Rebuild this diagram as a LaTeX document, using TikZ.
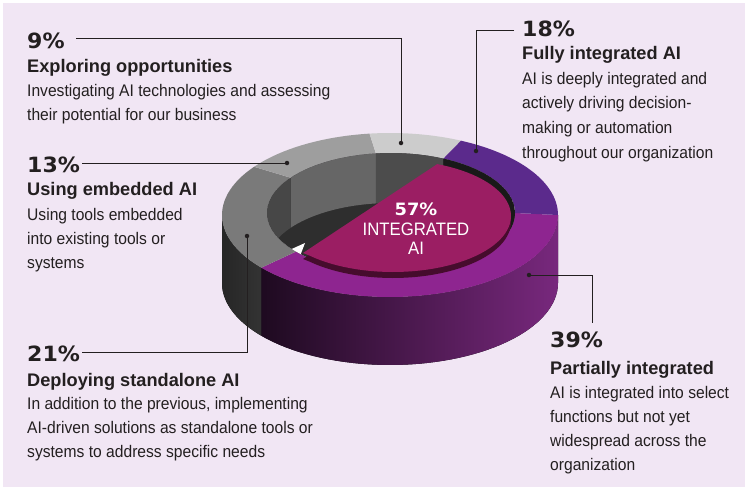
\documentclass[tikz,border=0pt]{standalone}
\usepackage{fontspec}
\setmainfont{Liberation Sans}[FakeStretch=0.93]
\newfontfamily\ttlfont{Liberation Sans}[FakeStretch=1.0]
\newfontfamily\pctfont{DejaVu Sans}[FakeStretch=1.05]
\begin{document}
\begin{tikzpicture}[x=1pt,y=-1pt,
  pct/.style={anchor=base west,inner sep=0,font=\pctfont\bfseries\fontsize{21}{21}\selectfont,text=txt},
  ttl/.style={anchor=base west,inner sep=0,font=\ttlfont\bfseries\fontsize{18.2}{18}\selectfont,text=txt},
  body/.style={anchor=base west,inner sep=0,font=\fontsize{16.8}{18}\selectfont,text=txt},
  lead/.style={draw=txt,line width=1pt},
  dotst/.style={circle,fill=txt,inner sep=0,minimum size=4.5pt}]
\definecolor{bg}{HTML}{F1E6F4}
\definecolor{txt}{HTML}{231F20}
\definecolor{magtop}{HTML}{8E2590}
\definecolor{purtop}{HTML}{5B2A8C}
\definecolor{pie}{HTML}{9B1E63}
\definecolor{pierim}{HTML}{460C2D}
\definecolor{wallL}{HTML}{1E0A20}
\definecolor{wallR}{HTML}{78287D}
\useasboundingbox (0,0) rectangle (750,490);
\fill[white] (0,0) rectangle (750,490);
\fill[bg] (3,3) rectangle (745,487);
% outer front walls
\fill[left color=black!85,right color=black!80] plot[domain=180:220,samples=20] ({390+168*cos(\x)},{215-82*sin(\x)}) -- plot[domain=220:180,samples=20] ({390+168*cos(\x)},{283-82*sin(\x)}) -- cycle;
\fill[left color=wallL,right color=wallR] plot[domain=220:360,samples=50] ({390+168*cos(\x)},{215-82*sin(\x)}) -- plot[domain=360:220,samples=50] ({390+168*cos(\x)},{283-82*sin(\x)}) -- cycle;
% top faces
\fill[magtop] plot[domain=220:360,samples=50] ({390+168*cos(\x)},{215-82*sin(\x)}) -- plot[domain=360:220,samples=50] ({391+124*cos(\x)},{213-60*sin(\x)}) -- cycle;
\fill[black!52] plot[domain=144:220,samples=30] ({390+168*cos(\x)},{215-82*sin(\x)}) -- plot[domain=220:144,samples=30] ({391+124*cos(\x)},{213-60*sin(\x)}) -- cycle;
\fill[black!38] plot[domain=97:144,samples=20] ({390+168*cos(\x)},{215-82*sin(\x)}) -- plot[domain=144:97,samples=20] ({391+124*cos(\x)},{213-60*sin(\x)}) -- cycle;
\fill[black!20] plot[domain=65:97,samples=20] ({390+168*cos(\x)},{215-82*sin(\x)}) -- plot[domain=97:65,samples=20] ({391+124*cos(\x)},{213-60*sin(\x)}) -- cycle;
\fill[purtop] plot[domain=0:65,samples=30] ({390+168*cos(\x)},{215-82*sin(\x)}) -- plot[domain=65:0,samples=30] ({391+124*cos(\x)},{213-60*sin(\x)}) -- cycle;
% hole
\begin{scope}
\clip plot[domain=0:360,samples=80] ({391+124*cos(\x)},{213-60*sin(\x)});
\fill[black!82] (260,150) rectangle (520,280);
\fill[black!60] plot[domain=97:144,samples=20] ({391+124*cos(\x)},{213-60*sin(\x)}) -- plot[domain=144:97,samples=20] ({391+124*cos(\x)},{263-60*sin(\x)}) -- cycle;
\fill[black!72] plot[domain=144:215,samples=20] ({391+124*cos(\x)},{213-60*sin(\x)}) -- plot[domain=215:144,samples=20] ({391+124*cos(\x)},{263-60*sin(\x)}) -- cycle;
\fill[black!70] plot[domain=65:97,samples=20] ({391+124*cos(\x)},{213-60*sin(\x)}) -- plot[domain=97:65,samples=20] ({391+124*cos(\x)},{263-60*sin(\x)}) -- cycle;
\fill[black!90] plot[domain=0:65,samples=20] ({391+124*cos(\x)},{213-60*sin(\x)}) -- plot[domain=65:0,samples=20] ({391+124*cos(\x)},{263-60*sin(\x)}) -- cycle;
\fill[white] (285,252) -- (305,243) -- (300,256) -- cycle;
\end{scope}
% pie
\fill[pierim] (303,259) -- plot[domain=-135:68,samples=60] ({393+118*cos(\x)},{222-56*sin(\x)}) -- cycle;
\fill[pie] (303,253) -- plot[domain=68:-135,samples=60] ({393+118*cos(\x)},{216-56*sin(\x)}) -- cycle;
\node[inner sep=0,text=white,font=\pctfont\bfseries\fontsize{17}{17}\selectfont] (p57) at (416,209) {57\%};
\node[inner sep=0,text=white,font=\fontsize{18}{18}\selectfont] (pint) at (416,229) {INTEGRATED};
\node[inner sep=0,text=white,font=\fontsize{18}{18}\selectfont] (pai) at (416,248) {AI};
% dots
\node[dotst] (d9) at (401,143) {};
\node[dotst] (d18) at (476,151) {};
\node[dotst] (d13) at (287,163) {};
\node[dotst] (d21) at (247,236) {};
\node[dotst] (d39) at (529,275) {};
\coordinate (e9) at (76,38);
\coordinate (e18) at (514,30);
\coordinate (e13) at (82,163);
\coordinate (e21) at (82,352);
\coordinate (e39) at (592,323);
\draw[lead] (e9) -| (d9.center);
\draw[lead] (e18) -| (d18.center);
\draw[lead] (e13) -- (d13.center);
\draw[lead] (e21) -| (d21.center);
\draw[lead] (d39.center) -| (e39);
% texts
\node[pct] (t9) at (27,48) {9\%};
\node[ttl] (h9) at (27,72) {Exploring opportunities};
\node[body] (b9a) at (27,96) {Investigating AI technologies and assessing};
\node[body] (b9b) at (27,120) {their potential for our business};
\node[pct] (t18) at (522,36) {18\%};
\node[ttl] (h18) at (522,59) {Fully integrated AI};
\node[body] (b18a) at (522,84) {AI is deeply integrated and};
\node[body] (b18b) at (522,108) {actively driving decision-};
\node[body] (b18c) at (522,133) {making or automation};
\node[body] (b18d) at (522,158) {throughout our organization};
\node[pct] (t13) at (27,172) {13\%};
\node[ttl] (h13) at (27,195) {Using embedded AI};
\node[body] (b13a) at (27,220) {Using tools embedded};
\node[body] (b13b) at (27,244) {into existing tools or};
\node[body] (b13c) at (27,268) {systems};
\node[pct] (t21) at (27,361) {21\%};
\node[ttl] (h21) at (27,386) {Deploying standalone AI};
\node[body] (b21a) at (27,409) {In addition to the previous, implementing};
\node[body] (b21b) at (27,433) {AI-driven solutions as standalone tools or};
\node[body] (b21c) at (27,457) {systems to address specific needs};
\node[pct] (t39) at (550,347) {39\%};
\node[ttl] (h39) at (550,374) {Partially integrated};
\node[body] (b39a) at (550,398) {AI is integrated into select};
\node[body] (b39b) at (550,422) {functions but not yet};
\node[body] (b39c) at (550,446) {widespread across the};
\node[body] (b39d) at (550,470) {organization};
\end{tikzpicture}
\end{document}
